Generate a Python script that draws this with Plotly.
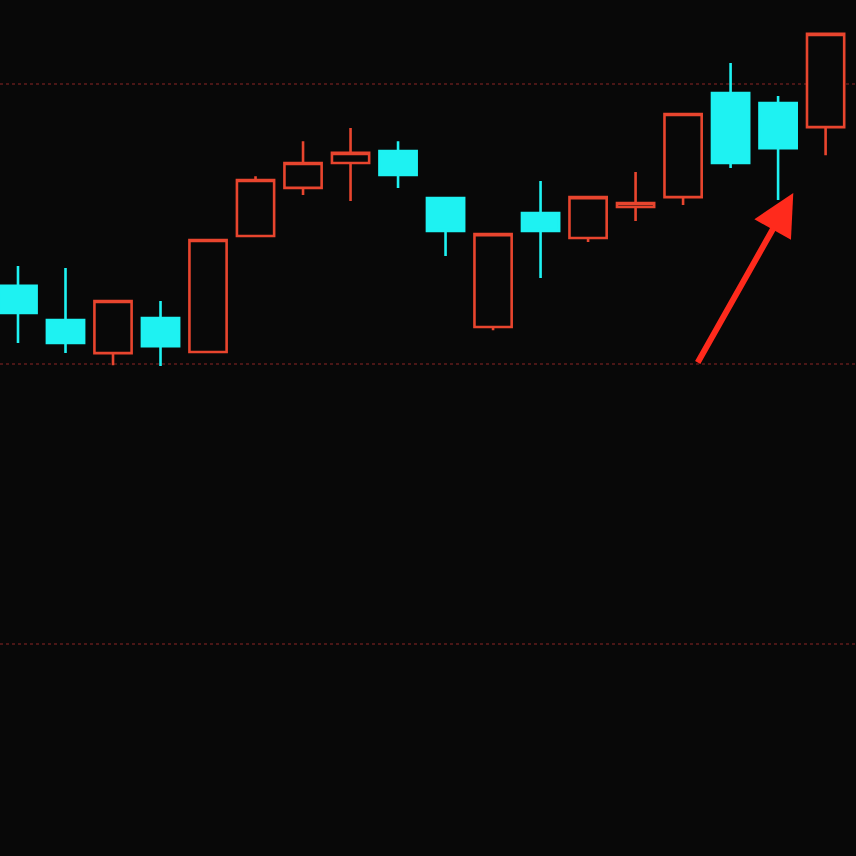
import plotly.graph_objects as go

# Candle index (day) and OHLC prices
days = list(range(18))
opens  = [10.279, 10.157, 10.039, 10.164, 10.043, 10.457, 10.629, 10.718, 10.761,
          10.593, 10.132, 10.539, 10.450, 10.561, 10.596, 10.968, 10.932, 10.846]
highs  = [10.350, 10.343, 10.225, 10.225, 10.446, 10.671, 10.796, 10.843, 10.796,
          10.593, 10.464, 10.654, 10.596, 10.686, 10.893, 11.075, 10.957, 11.179]
lows   = [10.075, 10.039, 9.996, 9.993, 10.043, 10.457, 10.604, 10.582, 10.629,
          10.386, 10.121, 10.307, 10.436, 10.511, 10.568, 10.700, 10.586, 10.746]
closes = [10.182, 10.075, 10.225, 10.064, 10.443, 10.657, 10.718, 10.754, 10.675,
          10.475, 10.464, 10.475, 10.596, 10.575, 10.893, 10.718, 10.771, 11.179]
grid_levels = [9.0, 10.0, 11.0]

# Arrow annotation (tail -> tip) in data coordinates
arrow_tail = (14.29, 10.0)
arrow_tip = (16.32, 10.611)

BG = "#080808"
RED = "#e8452e"
CYAN = "#1ef2f2"

fig = go.Figure()
fig.add_trace(go.Candlestick(
    x=days, open=opens, high=highs, low=lows, close=closes,
    increasing=dict(line=dict(color=RED, width=2.6), fillcolor=BG),
    decreasing=dict(line=dict(color=CYAN, width=2.6), fillcolor=CYAN),
    whiskerwidth=0, hoverinfo="skip", showlegend=False,
))

fig.add_annotation(
    x=arrow_tip[0], y=arrow_tip[1], ax=arrow_tail[0], ay=arrow_tail[1],
    xref="x", yref="y", axref="x", ayref="y", text="",
    showarrow=True, arrowhead=2, arrowsize=1.4, arrowwidth=6,
    arrowcolor="#ff2a1c", standoff=0, startstandoff=0,
)

fig.update_layout(
    width=856, height=856,
    margin=dict(l=0, r=0, t=0, b=0),
    paper_bgcolor=BG, plot_bgcolor=BG,
    showlegend=False,
    boxgap=0.1, boxgroupgap=0.13,
    xaxis=dict(range=[-0.379, 17.64], showgrid=False, zeroline=False,
               showticklabels=False, rangeslider=dict(visible=False), fixedrange=True),
    yaxis=dict(range=[8.243, 11.3], tickvals=grid_levels, showgrid=True,
               gridcolor="#4a1616", griddash="dot", gridwidth=1.5,
               zeroline=False, showticklabels=False, fixedrange=True),
)

fig.write_html("out.html", config={"displayModeBar": False},
               post_script="document.body.style.margin='0';document.body.style.background='%s';" % BG)
